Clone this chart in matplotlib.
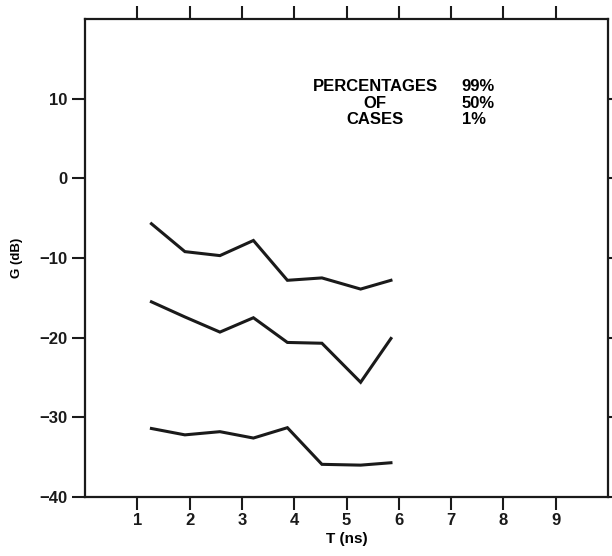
import matplotlib
matplotlib.use("Agg")
import matplotlib.pyplot as plt

# delay spread T (ns) and gain G (dB) for three percentiles
t_ns = [1.27, 1.91, 2.58, 3.22, 3.87, 4.53, 5.27, 5.85]
g_99 = [-5.7, -9.2, -9.7, -7.8, -12.8, -12.5, -13.9, -12.8]
g_50 = [-15.5, -17.4, -19.3, -17.5, -20.6, -20.7, -25.6, -20.1]
g_1 = [-31.4, -32.2, -31.8, -32.6, -31.3, -35.9, -36.0, -35.7]

x_ticks = [1, 2, 3, 4, 5, 6, 7, 8, 9]
y_ticks = [-40, -30, -20, -10, 0, 10]

plt.rcParams["font.family"] = ["Liberation Sans", "DejaVu Sans"]
plt.rcParams["font.weight"] = "bold"

fig = plt.figure(figsize=(6.12, 5.56), dpi=100)
ax = fig.add_axes([85 / 612, 59 / 556, 523 / 612, 478 / 556])

for g in (g_99, g_50, g_1):
    ax.plot(t_ns, g, color="#1a1a1a", lw=2.2, solid_joinstyle="miter")

ax.set_xlim(0, 10)
ax.set_ylim(-40, 20)
ax.set_xticks(x_ticks)
ax.set_yticks(y_ticks)
ax.tick_params(axis="both", direction="out", length=9.5, width=1.5,
               labelsize=12, color="#1a1a1a", labelcolor="#1a1a1a", pad=2)
ax.tick_params(axis="x", top=True, pad=2)
ax.tick_params(axis="y", right=True, pad=3)
for s in ax.spines.values():
    s.set_linewidth(1.6)
    s.set_color("#1a1a1a")

ax.set_xlabel("T (ns)", fontsize=11, fontweight="bold", labelpad=3)
ax.set_ylabel("G (dB)", fontsize=9.5, fontweight="bold", labelpad=12)

ax.text(5.55, 11.5, "PERCENTAGES", ha="center", va="center", fontsize=12, fontweight="bold")
ax.text(5.55, 9.4, "OF", ha="center", va="center", fontsize=12, fontweight="bold")
ax.text(5.55, 7.4, "CASES", ha="center", va="center", fontsize=12, fontweight="bold")
ax.text(7.2, 11.5, "99%", ha="left", va="center", fontsize=12, fontweight="bold")
ax.text(7.2, 9.4, "50%", ha="left", va="center", fontsize=12, fontweight="bold")
ax.text(7.2, 7.4, "1%", ha="left", va="center", fontsize=12, fontweight="bold")

fig.savefig("out.png", dpi=100)
